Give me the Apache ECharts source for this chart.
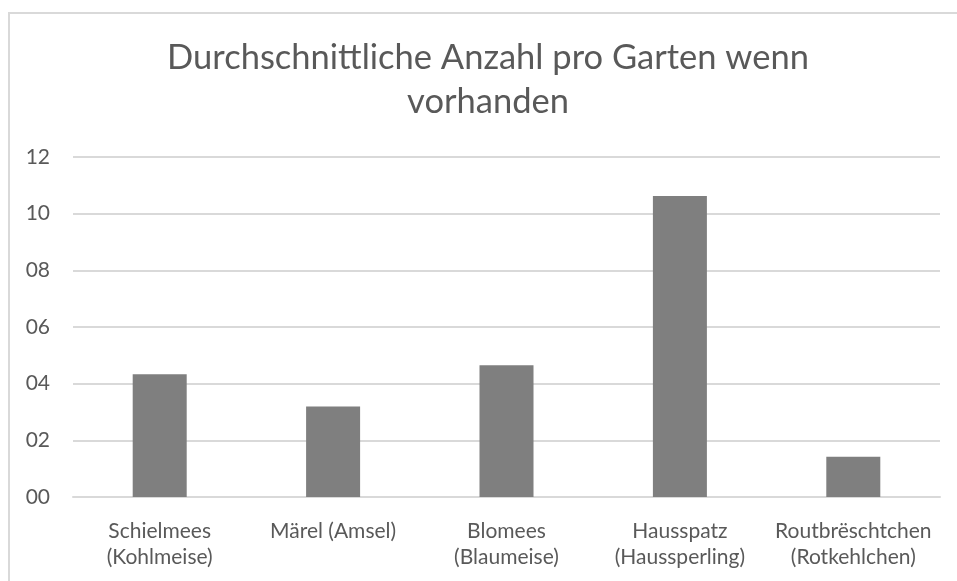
<!DOCTYPE html>
<html>
<head>
<meta charset="utf-8">
<script src="https://cdn.jsdelivr.net/npm/echarts@6/dist/echarts.min.js"></script>
<style>
html,body{margin:0;padding:0;background:#fff;}
#chart{width:957px;height:581px;}
</style>
</head>
<body>
<div id="chart"></div>
<script>
const titleText = "Durchschnittliche Anzahl pro Garten wenn\nvorhanden";
const categories = [
  "Schielmees\n(Kohlmeise)",
  "Märel (Amsel)",
  "Blomees\n(Blaumeise)",
  "Hausspatz\n(Haussperling)",
  "Routbrëschtchen\n(Rotkehlchen)"
];
const values = [4.33, 3.19, 4.65, 10.62, 1.42];
const yTicks = [0, 2, 4, 6, 8, 10, 12];

const chart = echarts.init(document.getElementById('chart'), null, {renderer: 'canvas'});
const font = 'Lato';
chart.setOption({
  animation: false,
  backgroundColor: '#fff',
  graphic: [{
    type: 'rect',
    shape: {x: 9, y: 13, width: 1000, height: 700},
    style: {fill: 'none', stroke: '#d9d9d9', lineWidth: 2},
    silent: true,
    z: -1
  }, {
    type: 'text',
    x: 488,
    y: 36,
    silent: true,
    style: {
      text: titleText,
      fontFamily: font,
      fontSize: 34.5,
      fill: '#595959',
      lineHeight: 44,
      align: 'center',
      verticalAlign: 'top'
    }
  }],
  grid: {left: 73, right: 17, top: 157, bottom: 84, containLabel: false},
  xAxis: {
    type: 'category',
    data: categories,
    axisLine: {show: true, lineStyle: {color: '#d9d9d9', width: 2}},
    axisTick: {show: false},
    axisLabel: {
      fontFamily: font,
      fontSize: 21,
      color: '#595959',
      margin: 21,
      lineHeight: 26,
      interval: 0
    }
  },
  yAxis: {
    type: 'value',
    min: yTicks[0],
    max: yTicks[yTicks.length - 1],
    interval: 2,
    axisLine: {show: false},
    axisTick: {show: false},
    splitLine: {lineStyle: {color: '#d9d9d9', width: 2}},
    axisLabel: {
      fontFamily: font,
      fontSize: 21,
      color: '#595959',
      margin: 23,
      formatter: v => String(v).padStart(2, '0')
    }
  },
  series: [{
    type: 'bar',
    data: values,
    barWidth: 54,
    itemStyle: {color: '#7f7f7f'}
  }]
});
</script>
</body>
</html>
